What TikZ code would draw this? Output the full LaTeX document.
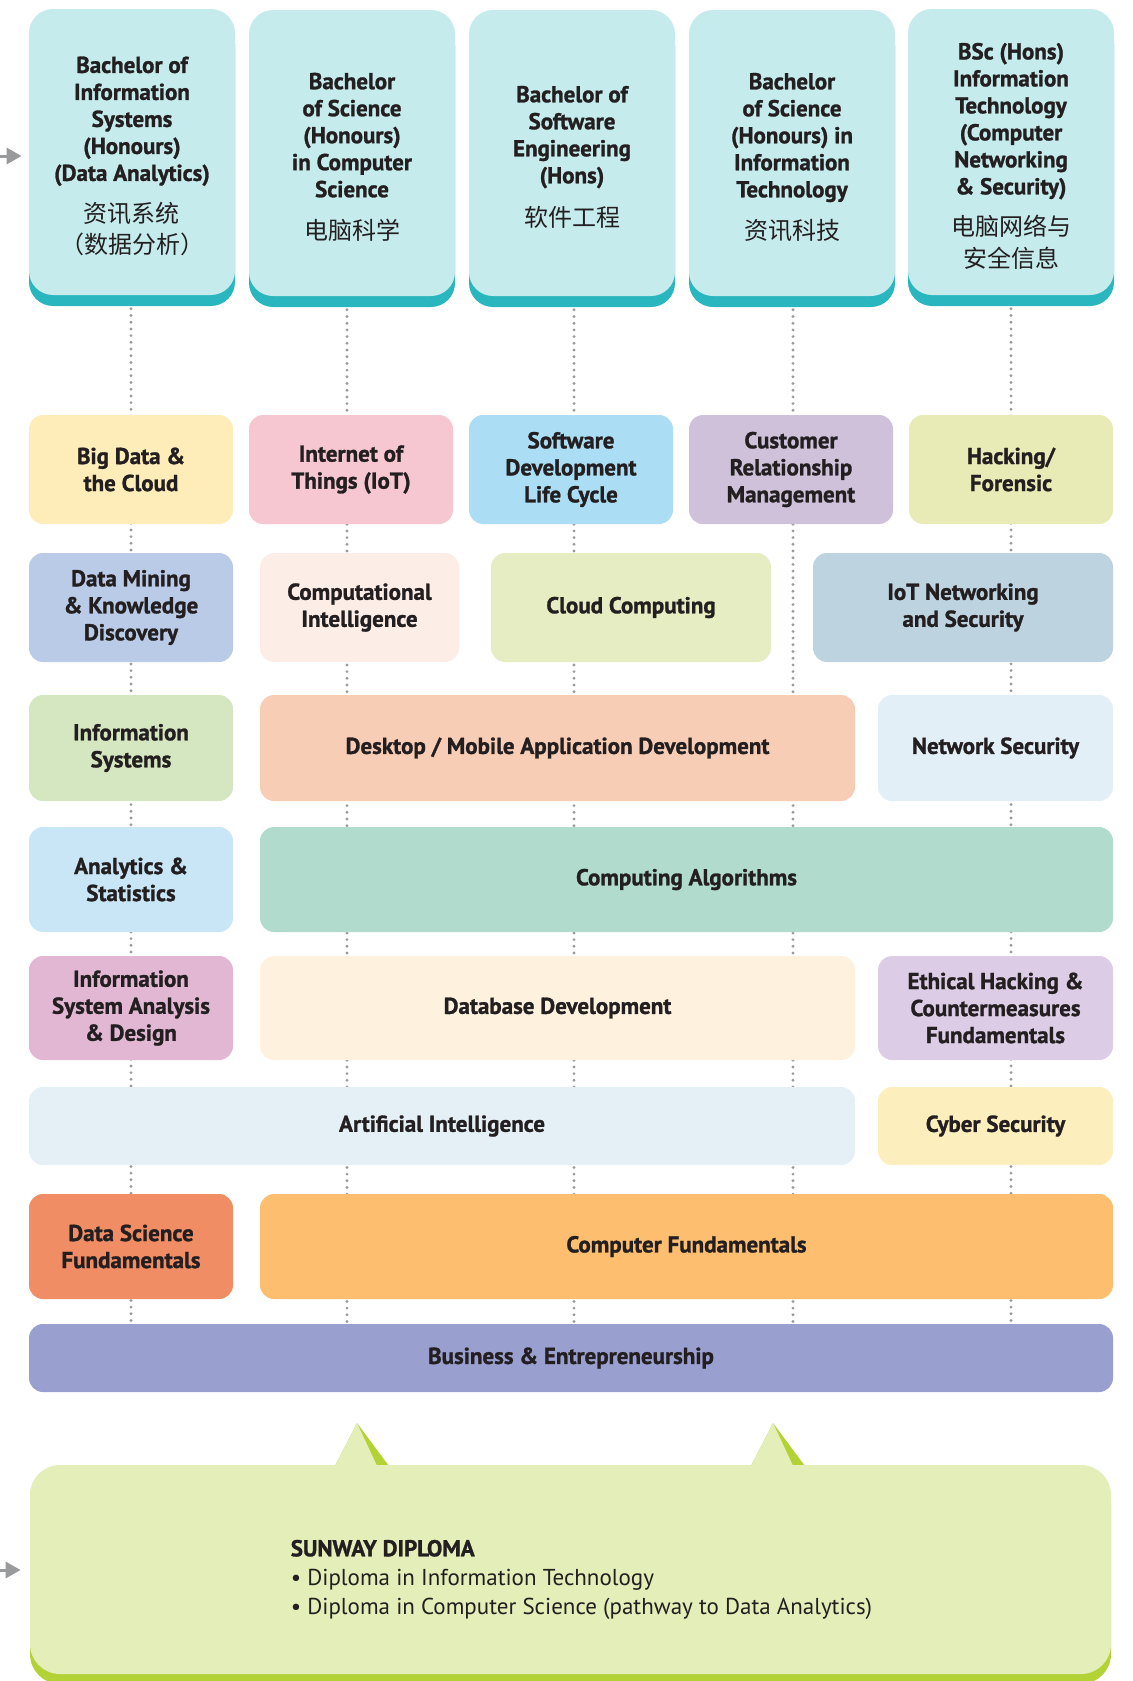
\documentclass[tikz,border=0pt]{standalone}
\usepackage{fontspec}
\setmainfont{PT Sans}[BoldFeatures={FakeBold=1.2}]
\newfontfamily\cjk{Noto Sans CJK SC}
\usetikzlibrary{shadows,backgrounds,calc,arrows.meta}

\definecolor{ink}{HTML}{231F20}
\definecolor{degfill}{HTML}{C6EBEC}
\definecolor{degshadow}{HTML}{29B6BE}
\definecolor{dotgray}{HTML}{9A9B9D}
\definecolor{arrowgray}{HTML}{999A9C}
\definecolor{bigdatafill}{HTML}{FEEDB9}
\definecolor{iotfill}{HTML}{F6C7D1}
\definecolor{sdlcfill}{HTML}{ABDEF4}
\definecolor{crmfill}{HTML}{CEC1D9}
\definecolor{hackfill}{HTML}{E8EBB6}
\definecolor{miningfill}{HTML}{B9CBE7}
\definecolor{cintelfill}{HTML}{FCEEE6}
\definecolor{cloudfill}{HTML}{E7EDC2}
\definecolor{iotnetfill}{HTML}{BDD3DF}
\definecolor{infosysfill}{HTML}{D5E7C1}
\definecolor{appdevfill}{HTML}{F8CDB6}
\definecolor{netsecfill}{HTML}{E3EFF7}
\definecolor{statsfill}{HTML}{C8E6F6}
\definecolor{algofill}{HTML}{B1DBCD}
\definecolor{isadfill}{HTML}{E1B7D3}
\definecolor{dbfill}{HTML}{FEF1DE}
\definecolor{ethicalfill}{HTML}{DDCCE5}
\definecolor{aifill}{HTML}{E4EFF6}
\definecolor{cyberfill}{HTML}{FDEEBD}
\definecolor{dsfill}{HTML}{F08D65}
\definecolor{compfill}{HTML}{FDBF6F}
\definecolor{busfill}{HTML}{999FCF}
\definecolor{dipfill}{HTML}{E3EEB8}
\definecolor{dipshadow}{HTML}{B2D235}

\newcommand{\zhtext}[1]{{\cjk\mdseries\fontsize{12}{15}\selectfont #1}}
% text block lowered inside its box, box size kept
\newcommand{\degtext}[1]{\raisebox{-3pt}[\height][\depth]{\setlength{\tabcolsep}{0pt}\begin{tabular}{c}#1\end{tabular}}}
\newcommand{\diptext}[1]{\hspace*{11pt}\raisebox{-5pt}[\height][\depth]{\setlength{\tabcolsep}{0pt}\begin{tabular}{l}#1\end{tabular}}}

\begin{document}
\begin{tikzpicture}[
        x=0.5pt, y=-0.5pt,
        degree/.style={rectangle, rounded corners=12pt, fill=degfill, text=ink, minimum width=103pt, minimum height=143pt, inner sep=0pt, font=\fontsize{11.5}{13.5}\selectfont\bfseries, drop shadow={shadow xshift=0pt, shadow yshift=-5.5pt, fill=degshadow, opacity=1}},
        course/.style={rectangle, rounded corners=7pt, text=ink, minimum width=102pt, minimum height=54.5pt, inner sep=0pt, align=center, font=\fontsize{11.5}{13.5}\selectfont\bfseries},
        diploma/.style={rectangle, rounded corners=15pt, fill=dipfill, text=ink, minimum width=540.5pt, minimum height=104.5pt, inner sep=0pt, font=\fontsize{11.5}{14.5}\selectfont, drop shadow={shadow xshift=0pt, shadow yshift=-5pt, fill=dipshadow, opacity=1}},
        dotline/.style={draw=dotgray, line width=1.6pt, line cap=round, dash pattern=on 0pt off 3.35pt},
        feed/.style={-{Triangle[length=7.5pt, width=8pt]}, draw=arrowgray, fill=arrowgray, line width=1.5pt}
    ]
    \useasboundingbox (0,0) rectangle (1132,1681);

    % Degrees
    \node[degree] (deg1) at (132,152) {\degtext{Bachelor of\\Information\\Systems\\(Honours)\\(Data Analytics)\\[6.5pt]\zhtext{资讯系统}\\[1.5pt]\zhtext{（数据分析）}}};
    \node[degree] (deg2) at (352,153) {\degtext{Bachelor\\of Science\\(Honours)\\in Computer\\Science\\[7pt]\zhtext{电脑科学}}};
    \node[degree] (deg3) at (572,153) {\degtext{Bachelor of\\Software\\Engineering\\(Hons)\\[7.5pt]\zhtext{软件工程}}};
    \node[degree] (deg4) at (792,153) {\degtext{Bachelor\\of Science\\(Honours) in\\Information\\Technology\\[7pt]\zhtext{资讯科技}}};
    \node[degree] (deg5) at (1011,152) {\degtext{BSc (Hons)\\Information\\Technology\\(Computer\\Networking\\\& Security)\\[6.5pt]\zhtext{电脑网络与}\\[1.5pt]\zhtext{安全信息}}};

    % Row 1
    \node[course, fill=bigdatafill] (bigdata) at (131,469.5) {Big Data \&\\the Cloud};
    \node[course, fill=iotfill] (iot) at (351,469.5) {Internet of\\Things (IoT)};
    \node[course, fill=sdlcfill] (sdlc) at (571,469.5) {Software\\Development\\Life Cycle};
    \node[course, fill=crmfill] (crm) at (791,469.5) {Customer\\Relationship\\Management};
    \node[course, fill=hackfill] (hack) at (1011,469.5) {Hacking/\\Forensic};

    % Row 2
    \node[course, fill=miningfill] (mining) at (131,607.5) {Data Mining\\\& Knowledge\\Discovery};
    \node[course, fill=cintelfill, minimum width=99.5pt] (cintel) at (359.5,607.5) {Computational\\Intelligence};
    \node[course, fill=cloudfill, minimum width=140pt] (cloud) at (631,607.5) {Cloud Computing};
    \node[course, fill=iotnetfill, minimum width=150pt] (iotnet) at (963,607.5) {IoT Networking\\and Security};

    % Row 3
    \node[course, fill=infosysfill, minimum height=53pt] (infosys) at (131,748) {Information\\Systems};
    \node[course, fill=appdevfill, minimum width=297.5pt, minimum height=53pt] (appdev) at (557.5,748) {Desktop / Mobile Application Development};
    \node[course, fill=netsecfill, minimum width=117.5pt, minimum height=53pt] (netsec) at (995.5,748) {Network Security};

    % Row 4
    \node[course, fill=statsfill, minimum height=52.5pt] (stats) at (131,879.5) {Analytics \&\\Statistics};
    \node[course, fill=algofill, minimum width=426.5pt, minimum height=52.5pt] (algo) at (686.5,879.5) {Computing Algorithms};

    % Row 5
    \node[course, fill=isadfill, minimum height=52pt] (isad) at (131,1008) {Information\\System Analysis\\\& Design};
    \node[course, fill=dbfill, minimum width=297.5pt, minimum height=52pt] (db) at (557.5,1008) {Database Development};
    \node[course, fill=ethicalfill, minimum width=117.5pt, minimum height=52pt] (ethical) at (995.5,1008) {Ethical Hacking \&\\Countermeasures\\Fundamentals};

    % Row 6
    \node[course, fill=aifill, minimum width=413pt, minimum height=39pt] (ai) at (442,1126) {Artificial Intelligence};
    \node[course, fill=cyberfill, minimum width=117.5pt, minimum height=39pt] (cyber) at (995.5,1126) {Cyber Security};

    % Row 7
    \node[course, fill=dsfill, minimum height=52.5pt] (dsf) at (131,1246.5) {Data Science\\Fundamentals};
    \node[course, fill=compfill, minimum width=426.5pt, minimum height=52.5pt] (compfund) at (686.5,1246.5) {Computer Fundamentals};

    % Row 8
    \node[course, fill=busfill, minimum width=542pt, minimum height=34pt] (bus) at (571,1358) {Business \& Entrepreneurship};

    % Diploma with its two pointers
    \fill[dipshadow] (357,1423) -- (392,1470) -- (333,1470) -- cycle;
    \fill[dipfill] (357,1423) -- (379,1470) -- (333,1470) -- cycle;
    \fill[dipshadow] (773,1423) -- (808,1470) -- (749,1470) -- cycle;
    \fill[dipfill] (773,1423) -- (795,1470) -- (749,1470) -- cycle;
    \node[diploma] (dip) at (570.5,1569.5) {\diptext{{\bfseries SUNWAY DIPLOMA}\\\textbullet{} Diploma in Information Technology\\\textbullet{} Diploma in Computer Science (pathway to Data Analytics)}};

    % Columns
    \begin{scope}[on background layer]
        \foreach \d/\dx in {deg1/-1, deg2/-5, deg3/2, deg4/1, deg5/0}
            \draw[dotline] ($(\d.south)+(\dx,0)$) -- ($(\d.south |- bus.north)+(\dx,0)$);
    \end{scope}

    % Entry arrows
    \coordinate (feedTop) at (0,156);
    \coordinate (feedBottom) at (0,1570);
    \draw[feed, shorten >=3.5pt] (feedTop) -- (deg1.west |- feedTop);
    \draw[feed, shorten >=4.5pt] (feedBottom) -- (dip.west |- feedBottom);

\end{tikzpicture}
\end{document}
